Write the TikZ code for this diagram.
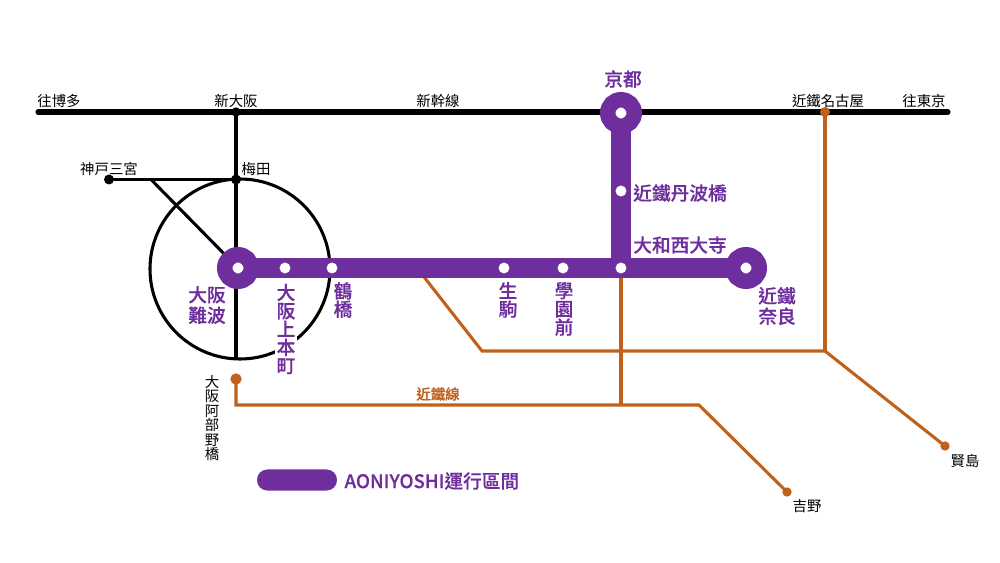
\documentclass[tikz,border=0pt]{standalone}
\usepackage{fontspec}
\setmainfont{Noto Sans CJK TC}
\newfontfamily\aonifont[FakeBold=0.5]{Noto Sans CJK TC Medium}
\usetikzlibrary{backgrounds}
\definecolor{aoni}{HTML}{6E2E9E}
\definecolor{kintetsu}{HTML}{C0601A}
\tikzset{every picture/.style={line width=0.75pt}}
\tikzset{
  bigstop/.style={circle,draw=aoni,fill=white,line width=11.6pt,minimum size=19.9pt,inner sep=0pt,outer sep=0pt},
  whitestop/.style={circle,fill=white,minimum size=8.2pt,inner sep=0pt,outer sep=0pt},
  blackstop/.style={circle,fill=black,minimum size=#1,inner sep=0pt,outer sep=0pt},
  orangestop/.style={circle,fill=kintetsu,minimum size=#1,inner sep=0pt,outer sep=0pt},
  shinline/.style={line width=3.8pt,line cap=round},
  blackline/.style={line width=2.3pt},
  orangeline/.style={draw=kintetsu,line width=2.3pt},
  aoniline/.style={draw=aoni,line width=15.4pt},
  blacklabel/.style={inner sep=0pt,align=center,font=\fontsize{10.8pt}{10.8pt}\selectfont},
  aonilabel/.style={inner sep=0pt,text=aoni,align=center,font=\fontsize{14pt}{15.4pt}\aonifont},
  aonicolumn/.style={inner sep=0pt,text=aoni,align=center,font=\fontsize{14pt}{13.7pt}\aonifont},
}
\begin{document}
\begin{tikzpicture}[x=0.75pt,y=0.75pt,yscale=-1,xscale=1]
	\useasboundingbox (0,0) rectangle (1000,563);
	
	%Shinkansen ends
	\coordinate (hakata) at (38,112);
	\coordinate (tokyo) at (948,112);
	%Junctions
	\coordinate (kobefork) at (151,179.5);
	\coordinate (loopbottom) at (236,359);
	\coordinate (kinkifork) at (417,268);
	\coordinate (bendwest) at (482,351);
	\coordinate (bendeast) at (825,351);
	\coordinate (abenocorner) at (236,405);
	\coordinate (saidaijifoot) at (621,405);
	\coordinate (yoshinobend) at (699,405);
	
	%Black stops
	\node [blackstop=7pt] (shinosaka) at (236,112) {};
	\node [blackstop=7.5pt] (umeda) at (236,179.5) {};
	\node [blackstop=7.5pt] (kobe) at (109,179.5) {};
	%Orange stops
	\node [orangestop=7.5pt] (nagoya) at (825,112) {};
	\node [orangestop=8.5pt] (abeno) at (236,379) {};
	\node [orangestop=7pt] (yoshino) at (787,492) {};
	\node [orangestop=7pt] (kashiko) at (945,446) {};
	%Purple stops
	\node [bigstop] (namba) at (238,268) {};
	\node [bigstop] (kyoto) at (621,113) {};
	\node [bigstop] (nara) at (746,268) {};
	\node [whitestop] (uehon) at (285,268) {};
	\node [whitestop] (tsuru) at (332,268) {};
	\node [whitestop] (ikoma) at (504,268) {};
	\node [whitestop] (gakuen) at (563,268) {};
	\node [whitestop] (saidaiji) at (621,268) {};
	\node [whitestop] (tanba) at (621,191) {};
	
	\begin{scope}[on background layer]
		%Loop line
		\draw [blackline] (240,269) circle [radius=90];
		%Black lines
		\draw [shinline] (hakata) -- (tokyo);
		\draw [blackline] (shinosaka.center) -- (loopbottom);
		\draw [blackline] (kobe.center) -- (umeda.center);
		\draw [blackline] (kobefork) -- (namba.center);
		%Kintetsu lines
		\draw [orangeline] (nagoya.center) -- (bendeast);
		\draw [orangeline] (kinkifork) -- (bendwest) -- (bendeast) -- (kashiko.center);
		\draw [orangeline] (abeno.center) -- (abenocorner) -- (yoshinobend) -- (yoshino.center);
		\draw [orangeline] (saidaiji.center) -- (saidaijifoot);
		%Aoniyoshi route
		\draw [aoniline] (namba.center) -- (nara.center);
		\draw [aoniline] (kyoto.center) -- (saidaiji.center);
	\end{scope}
	
	% Text Node
	\node [blacklabel] (lhakata) at (59,101) {往博多};
	\node [blacklabel] (lshinosaka) at (236,101) {新大阪};
	\node [blacklabel] (lshinkansen) at (438,101) {新幹線};
	\node [blacklabel] (lnagoya) at (828,101) {近鐵名古屋};
	\node [blacklabel] (ltokyo) at (924,101) {往東京};
	\node [blacklabel] (lkobe) at (109,169) {神戸三宮};
	\node [blacklabel] (lumeda) at (256,169) {梅田};
	\node [blacklabel] (labeno) at (212,418) {大\\阪\\阿\\部\\野\\橋};
	\node [blacklabel] (lyoshino) at (807,506) {吉野};
	\node [blacklabel] (lkashiko) at (965,461) {賢島};
	% Text Node
	\node [aonilabel] (lkyoto) at (623,79) {京都};
	\node [aonilabel] (ltanba) at (680,193) {近鐵丹波橋};
	\node [aonilabel] (lsaidaiji) at (680,245) {大和西大寺};
	\node [aonilabel] (lnamba) at (207,305) {大阪\\難波};
	\node [aonicolumn,fill=white,inner xsep=1.5pt] (luehon) at (286,329) {大\\阪\\上\\本\\町};
	\node [aonicolumn] (ltsuru) at (343,300) {鶴\\橋};
	\node [aonicolumn] (likoma) at (508,300) {生\\駒};
	\node [aonicolumn] (lgakuen) at (564,309) {學\\園\\前};
	\node [aonilabel] (lnara) at (777,306) {近鐵\\奈良};
	\node [inner sep=0pt,text=kintetsu,font=\fontsize{10.8pt}{12pt}\aonifont] (lkinki) at (438,394) {近鐵線};
	% Legend
	\node [rounded corners=7.8pt,fill=aoni,minimum width=60pt,minimum height=15.8pt,inner sep=0pt] (legendbar) at (297,480) {};
	\node [aonilabel,anchor=west] (legendtext) at (344,481) {AONIYOSHI運行區間};
	
\end{tikzpicture}
\end{document}
